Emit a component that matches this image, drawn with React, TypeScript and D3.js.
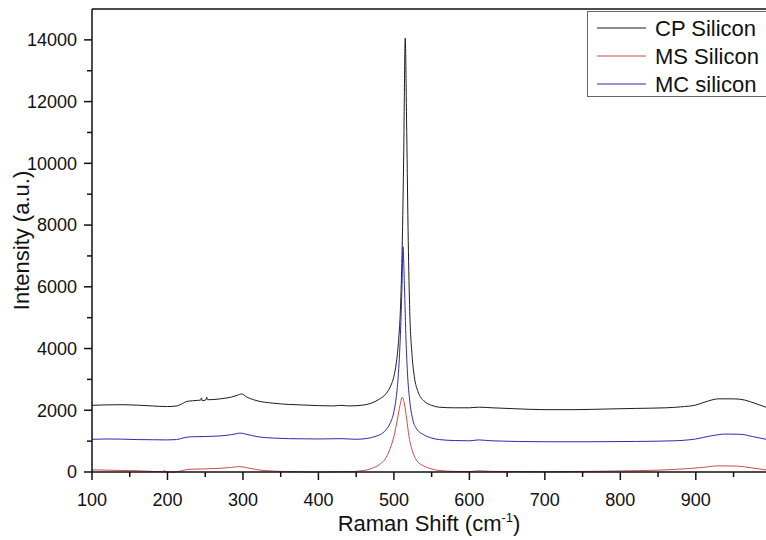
import React from "react";
import * as d3 from "d3";

const xTicks = [100, 200, 300, 400, 500, 600, 700, 800, 900];
const yTicks = [0, 2000, 4000, 6000, 8000, 10000, 12000, 14000];
const seriesNames = ["CP Silicon", "MS Silicon", "MC silicon"];
const seriesColors = ["#1c1c1c", "#cc4b4b", "#2b2bb0"];

const cpSilicon: [number, number][] = [
  [100, 2160], [120, 2175], [140, 2180], [160, 2165], [180, 2140], [200, 2120], [212, 2140],
  [220, 2220], [226, 2290], [240, 2320], [244, 2330], [245, 2400], [246, 2310], [251, 2340],
  [252, 2430], [253, 2340], [270, 2370], [285, 2430], [293, 2490], [298, 2530], [305, 2430],
  [320, 2300], [340, 2230], [360, 2190], [380, 2170], [400, 2150], [420, 2140], [430, 2160],
  [440, 2140], [460, 2170], [470, 2230], [480, 2350], [490, 2550], [495, 2750], [500, 3100],
  [503, 3500], [506, 4200], [509, 5500], [511, 7300], [513, 10300], [515, 14050], [517, 11000],
  [519, 7500], [521, 5200], [524, 3800], [527, 3100], [532, 2600], [540, 2300], [550, 2160],
  [560, 2100], [580, 2080], [600, 2080], [612, 2100], [630, 2080], [660, 2050], [700, 2020],
  [740, 2020], [780, 2040], [820, 2060], [860, 2080], [880, 2110], [900, 2170], [915, 2290],
  [930, 2370], [950, 2370], [965, 2330], [980, 2210], [993, 2100],
];

const msSilicon: [number, number][] = [
  [100, 70], [120, 60], [140, 50], [160, 40], [180, 20], [195, 10], [196, 60], [197, 5],
  [210, 0], [220, 50], [230, 90], [250, 100], [270, 120], [285, 150], [295, 175], [305, 140],
  [320, 70], [340, 30], [360, 15], [400, 0], [440, 10], [460, 50], [470, 110], [480, 230],
  [490, 480], [495, 760], [500, 1150], [505, 1750], [508, 2150], [511, 2420], [514, 2200],
  [517, 1700], [520, 1150], [525, 650], [530, 380], [540, 190], [550, 100], [560, 50],
  [580, 20], [600, 15], [612, 40], [630, 20], [700, 10], [760, 20], [800, 35], [850, 60],
  [890, 110], [910, 150], [930, 200], [955, 190], [975, 130], [993, 70],
];

const mcSilicon: [number, number][] = [
  [100, 1060], [120, 1070], [140, 1065], [160, 1050], [180, 1045], [200, 1040], [212, 1050],
  [222, 1110], [230, 1140], [250, 1150], [270, 1170], [285, 1210], [297, 1260], [305, 1220],
  [320, 1140], [340, 1100], [360, 1080], [400, 1070], [430, 1080], [450, 1060], [465, 1090],
  [475, 1150], [485, 1260], [490, 1380], [495, 1580], [500, 1950], [503, 2400], [506, 3200],
  [509, 4700], [511, 6300], [512, 7300], [514, 6000], [516, 4300], [518, 3200], [521, 2300],
  [525, 1700], [530, 1400], [540, 1200], [550, 1100], [560, 1050], [580, 1020], [600, 1010],
  [612, 1040], [630, 1010], [700, 980], [760, 980], [820, 990], [870, 1010], [900, 1070],
  [920, 1170], [940, 1230], [960, 1220], [975, 1150], [993, 1060],
];

const allSeries = [cpSilicon, msSilicon, mcSilicon];

export default function App() {
  const W = 766;
  const H = 540;
  const left = 92;
  const right = 766;
  const top = 9;
  const bottom = 472;

  const x = d3.scaleLinear().domain([100, 993]).range([left, right]);
  const y = d3.scaleLinear().domain([0, 15000]).range([bottom, top]);

  const line = d3
    .line<[number, number]>()
    .x((d) => x(d[0]))
    .y((d) => y(d[1]))
    .curve(d3.curveMonotoneX);

  const xMinor = d3.range(150, 993, 100);
  const yMinor = d3.range(1000, 15000, 2000);
  const font = "Arial, 'Liberation Sans', Helvetica, sans-serif";

  return (
    <svg
      width={W}
      height={H}
      style={{ position: "absolute", left: 0, top: 0, display: "block", background: "#fff" }}
      fontFamily={font}
    >
      <rect x={0} y={0} width={W} height={H} fill="#fff" />
      {allSeries.map((s, i) => (
        <path key={i} d={line(s) || ""} fill="none" stroke={seriesColors[i]} strokeWidth={1} />
      ))}
      {/* frame */}
      <line x1={left} x2={right} y1={top} y2={top} stroke="#111" strokeWidth={1.5} />
      <line x1={left} x2={left} y1={top} y2={bottom} stroke="#111" strokeWidth={1.5} />
      <line x1={left} x2={right} y1={bottom} y2={bottom} stroke="#111" strokeWidth={1.5} />
      {/* x ticks */}
      {xTicks.map((t) => (
        <g key={"xt" + t}>
          <line x1={x(t)} x2={x(t)} y1={bottom} y2={bottom + 8} stroke="#111" strokeWidth={1.5} />
          <text x={x(t)} y={506} textAnchor="middle" fontSize={18} fill="#111">
            {t}
          </text>
        </g>
      ))}
      {xMinor.map((t) => (
        <line key={"xm" + t} x1={x(t)} x2={x(t)} y1={bottom} y2={bottom + 5} stroke="#111" strokeWidth={1.5} />
      ))}
      {/* y ticks */}
      {yTicks.map((t) => (
        <g key={"yt" + t}>
          <line x1={left - 8} x2={left} y1={y(t)} y2={y(t)} stroke="#111" strokeWidth={1.5} />
          <text x={77} y={y(t)} dy="0.35em" textAnchor="end" fontSize={18} fill="#111">
            {t}
          </text>
        </g>
      ))}
      {yMinor.map((t) => (
        <line key={"ym" + t} x1={left - 5} x2={left} y1={y(t)} y2={y(t)} stroke="#111" strokeWidth={1.5} />
      ))}
      {/* axis titles */}
      <text x={(left + right) / 2} y={531} textAnchor="middle" fontSize={22} fill="#111">
        Raman Shift (cm
        <tspan dy={-9} fontSize={13}>-1</tspan>
        <tspan dy={9}>)</tspan>
      </text>
      <text
        transform={`translate(29, ${(top + bottom) / 2}) rotate(-90)`}
        textAnchor="middle"
        fontSize={22}
        fill="#111"
      >
        Intensity (a.u.)
      </text>
      {/* legend */}
      <rect x={587.5} y={11.5} width={200} height={85} fill="#fff" stroke="#666" strokeWidth={1} />
      {seriesNames.map((n, i) => (
        <g key={n}>
          <line x1={597} x2={646} y1={28 + i * 28} y2={28 + i * 28} stroke={seriesColors[i]} strokeWidth={1} />
          <text x={655} y={28 + i * 28} dy="0.36em" fontSize={22} fill="#111">
            {n}
          </text>
        </g>
      ))}
    </svg>
  );
}
